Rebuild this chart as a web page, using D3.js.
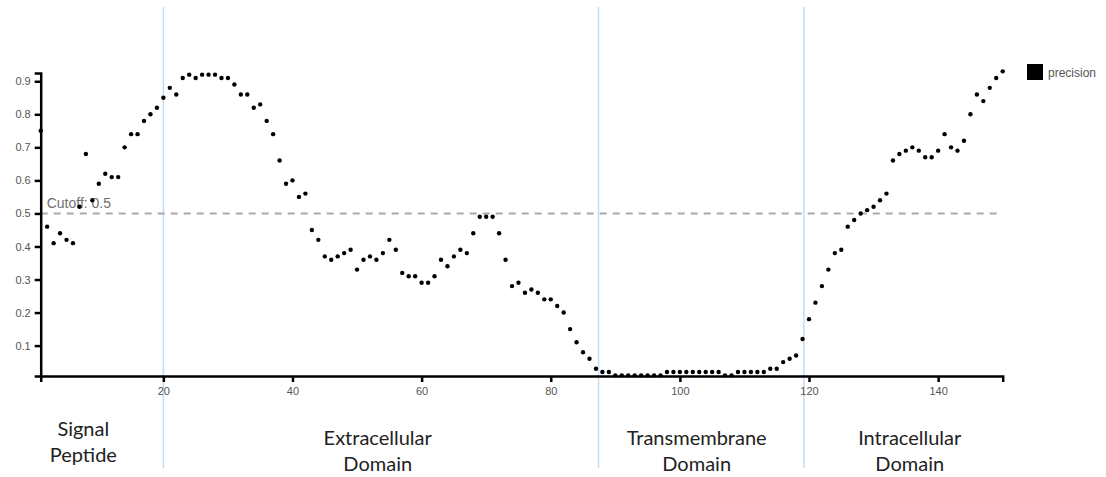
<!DOCTYPE html>
<html>
<head>
<meta charset="utf-8">
<script src="https://cdn.jsdelivr.net/npm/d3@7"></script>
<style>
  body { margin: 0; background: #fff; }
  svg { display: block; }
  .axis path, .axis line { stroke: #000; stroke-width: 2.5; }
  .axis text { font-family: "Liberation Sans", Arial, sans-serif; font-size: 11px; fill: #555; }
  .region { font-family: Lato, "Open Sans", sans-serif; font-size: 20px; fill: #222; }
</style>
</head>
<body>
<script>
'use strict';
// residue positions 1..150 and the precision
const precision = [
  0.75, 0.46, 0.41, 0.44, 0.42, 0.41, 0.52, 0.68, 0.54, 0.59,
  0.62, 0.61, 0.61, 0.70, 0.74, 0.74, 0.78, 0.80, 0.82, 0.85,
  0.88, 0.86, 0.91, 0.92, 0.91, 0.92, 0.92, 0.92, 0.91, 0.91,
  0.89, 0.86, 0.86, 0.82, 0.83, 0.78, 0.74, 0.66, 0.59, 0.60,
  0.55, 0.56, 0.45, 0.42, 0.37, 0.36, 0.37, 0.38, 0.39, 0.33,
  0.36, 0.37, 0.36, 0.38, 0.42, 0.39, 0.32, 0.31, 0.31, 0.29,
  0.29, 0.31, 0.36, 0.34, 0.37, 0.39, 0.38, 0.44, 0.49, 0.49,
  0.49, 0.44, 0.36, 0.28, 0.29, 0.26, 0.27, 0.26, 0.24, 0.24,
  0.22, 0.20, 0.15, 0.11, 0.08, 0.06, 0.03, 0.02, 0.02, 0.01,
  0.01, 0.01, 0.01, 0.01, 0.01, 0.01, 0.01, 0.02, 0.02, 0.02,
  0.02, 0.02, 0.02, 0.02, 0.02, 0.02, 0.01, 0.01, 0.02, 0.02,
  0.02, 0.02, 0.02, 0.03, 0.03, 0.05, 0.06, 0.07, 0.12, 0.18,
  0.23, 0.28, 0.33, 0.38, 0.39, 0.46, 0.48, 0.50, 0.51, 0.52,
  0.54, 0.56, 0.66, 0.68, 0.69, 0.70, 0.69, 0.67, 0.67, 0.69,
  0.74, 0.70, 0.69, 0.72, 0.80, 0.86, 0.84, 0.88, 0.91, 0.93
];
const positions = precision.map((d, i) => i + 1);
const xTicks = [20, 40, 60, 80, 100, 120, 140];
const yTicks = [0.1, 0.2, 0.3, 0.4, 0.5, 0.6, 0.7, 0.8, 0.9];
const cutoff = 0.5;
const boundaries = [20, 87.4, 119.2];
const regionNames = [['Signal', 'Peptide'], ['Extracellular', 'Domain'], ['Transmembrane', 'Domain'], ['Intracellular', 'Domain']];
const regionCenters = [7.6, 53.2, 102.6, 135.6];
const seriesName = 'precision';

const svg = d3.select(document.body).append('svg')
  .attr('width', 1106).attr('height', 477);

const x = d3.scaleLinear().domain([1, 150]).range([40.7, 1002.7]);
const y = d3.scaleLinear().domain([0.008, 0.925]).range([376, 73]);

// region boundary lines
svg.append('g').selectAll('line')
  .data(boundaries).enter()
  .append('line')
  .attr('x1', d => x(d)).attr('x2', d => x(d))
  .attr('y1', 7).attr('y2', 468)
  .attr('stroke', '#c6dcf1').attr('stroke-width', 1.5);

// cutoff line
svg.append('line')
  .attr('x1', x(1)).attr('x2', x(150))
  .attr('y1', y(cutoff)).attr('y2', y(cutoff))
  .attr('stroke', '#aaa').attr('stroke-width', 2)
  .attr('stroke-dasharray', '7,6');
svg.append('text')
  .attr('x', x(1) + 6).attr('y', y(cutoff) - 5)
  .attr('font-family', '"Liberation Sans", Arial, sans-serif')
  .attr('font-size', 14).attr('fill', '#6f6f6f')
  .text('Cutoff: ' + cutoff);

// axes
svg.append('g').attr('class', 'axis')
  .attr('transform', `translate(0,${y.range()[0]})`)
  .call(d3.axisBottom(x).tickValues(xTicks).tickSize(6).tickPadding(5));
svg.append('g').attr('class', 'axis')
  .attr('transform', `translate(${x.range()[0]},0)`)
  .call(d3.axisLeft(y).tickValues(yTicks).tickSize(6).tickPadding(4).tickFormat(d3.format('.1f')));

// points
svg.append('g').selectAll('circle')
  .data(positions).enter()
  .append('circle')
  .attr('cx', d => x(d))
  .attr('cy', (d, i) => y(precision[i]))
  .attr('r', 2.2)
  .attr('fill', '#000');

// legend
svg.append('rect').attr('x', 1027).attr('y', 64).attr('width', 16).attr('height', 16).attr('fill', '#000');
svg.append('text').attr('x', 1048).attr('y', 77)
  .attr('font-family', '"Liberation Sans", Arial, sans-serif')
  .attr('font-size', 12).attr('fill', '#555')
  .text(seriesName);

// region labels
const reg = svg.append('g').selectAll('text')
  .data(regionNames).enter()
  .append('text')
  .attr('class', 'region')
  .attr('text-anchor', 'middle')
  .attr('x', (d, i) => x(regionCenters[i]))
  .attr('y', (d, i) => i === 0 ? 436 : 445);
reg.selectAll('tspan')
  .data(d => d).enter()
  .append('tspan')
  .attr('x', function() { return this.parentNode.getAttribute('x'); })
  .attr('dy', (d, i) => i === 0 ? 0 : 26)
  .text(d => d);
</script>
</body>
</html>
